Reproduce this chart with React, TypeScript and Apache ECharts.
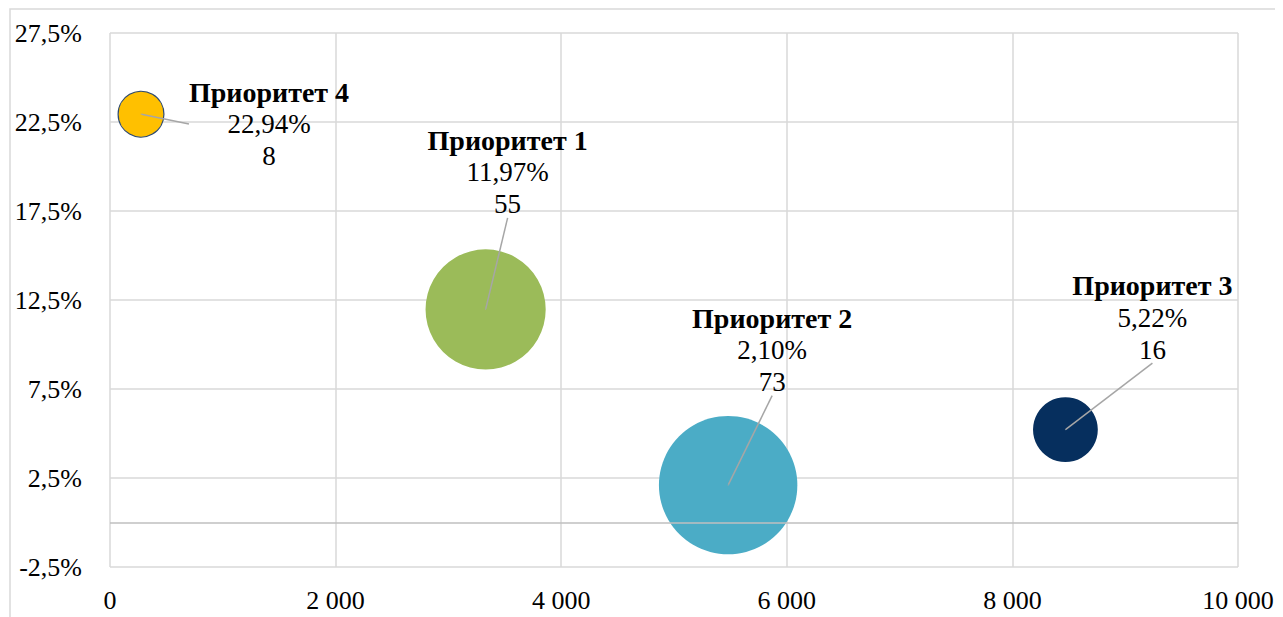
import React, { useEffect, useRef } from "react";
import * as echarts from "echarts";

// ---- data ----
const names = ["Приоритет 1", "Приоритет 2", "Приоритет 3", "Приоритет 4"];
const xValues = [3330, 5480, 8470, 275];
const yValues = [11.97, 2.1, 5.22, 22.94];
const sizes = [55, 73, 16, 8];
const colors = ["#9BBB59", "#4BACC6", "#062F5E", "#FFC000"];
const xTicks = [0, 2000, 4000, 6000, 8000, 10000];
const yTickLabels = ["-2,5%", "2,5%", "7,5%", "12,5%", "17,5%", "22,5%", "27,5%"];

// label offsets (layout only)
const labelOffsets = [
  [22, -137],
  [44, -135],
  [87, -112],
  [128, 10],
];

const FONT = "'Liberation Serif', 'Times New Roman', serif";

const fmtPct = (v: number) => v.toFixed(2).replace(".", ",") + "%";
const fmtThousands = (v: number) =>
  String(v).replace(/\B(?=(\d{3})+(?!\d))/g, " ");

export default function App() {
  const ref = useRef<HTMLDivElement>(null);
  useEffect(() => {
    if (!ref.current) return;
    const chart = echarts.init(ref.current, undefined, { renderer: "svg" });
    const bubbles = names.map((n, i) => ({
      name: n,
      value: [xValues[i], yValues[i], sizes[i]],
      itemStyle: {
        color: colors[i],
        borderColor: i === 3 ? "#2E4A70" : colors[i],
        borderWidth: i === 3 ? 1.2 : 0,
        opacity: 1,
      },
    }));
    const anchors = names.map((n, i) => ({
      name: n,
      value: [xValues[i], yValues[i], sizes[i]],
    }));
    chart.setOption({
      animation: false,
      graphic: [
        {
          type: "rect",
          shape: { x: 2, y: 1, width: 1400, height: 800 },
          style: { fill: "none", stroke: "#D9D9D9", lineWidth: 1.5 },
          silent: true,
        },
      ],
      grid: { left: 102, top: 25, right: 45, bottom: 50, containLabel: false },
      xAxis: {
        type: "value",
        min: xTicks[0],
        max: xTicks[xTicks.length - 1],
        interval: 2000,
        axisLine: { show: false },
        axisTick: { show: false },
        splitLine: { show: true, lineStyle: { color: "#D9D9D9", width: 1.5 } },
        axisLabel: {
          fontFamily: FONT,
          fontSize: 26,
          color: "#000",
          margin: 20,
          formatter: (v: number) => fmtThousands(v),
        },
      },
      yAxis: [
        {
          type: "value",
          min: -2.5,
          max: 27.5,
          axisLine: { show: false },
          axisTick: { show: false },
          axisLabel: { show: false },
          splitLine: { show: false },
        },
        {
          type: "value",
          position: "left",
          min: 0,
          max: 30,
          interval: 5,
          axisLine: { show: false },
          axisTick: { show: false },
          splitLine: { show: true, lineStyle: { color: "#D9D9D9", width: 1.5 } },
          axisLabel: {
            fontFamily: FONT,
            fontSize: 26,
            color: "#000",
            margin: 28,
            formatter: (v: number) => yTickLabels[Math.round(v / 5)] ?? "",
          },
        },
      ],
      series: [
        {
          type: "scatter",
          yAxisIndex: 0,
          data: bubbles,
          symbolSize: (val: number[]) => 16.2 * Math.sqrt(val[2]),
          markLine: {
            silent: true,
            symbol: "none",
            label: { show: false },
            lineStyle: { color: "#BFBFBF", width: 1.5, type: "solid" },
            data: [{ yAxis: 0 }],
          },
          z: 3,
        },
        {
          type: "scatter",
          yAxisIndex: 0,
          data: anchors,
          symbolSize: 1,
          itemStyle: { color: "#A6A6A6", opacity: 1 },
          silent: true,
          z: 5,
          label: {
            show: true,
            position: "inside",
            fontFamily: FONT,
            color: "#000",
            opacity: 1,
            align: "center",
            verticalAlign: "middle",
            formatter: (p: any) =>
              `{b|${p.name}}\n{v|${fmtPct(p.value[1])}}\n{v|${p.value[2]}}`,
            rich: {
              b: { fontFamily: FONT, fontSize: 28, fontWeight: "bold", color: "#000", lineHeight: 32, align: "center" },
              v: { fontFamily: FONT, fontSize: 27, color: "#000", lineHeight: 32, align: "center" },
            },
          },
          labelLine: { show: true, lineStyle: { color: "#A6A6A6", width: 1.5 } },
          labelLayout: (p: any) => ({
            dx: labelOffsets[p.dataIndex][0],
            dy: labelOffsets[p.dataIndex][1],
          }),
        },
      ],
    });
    return () => chart.dispose();
  }, []);
  return <div ref={ref} style={{ width: 1275, height: 609 }} />;
}
